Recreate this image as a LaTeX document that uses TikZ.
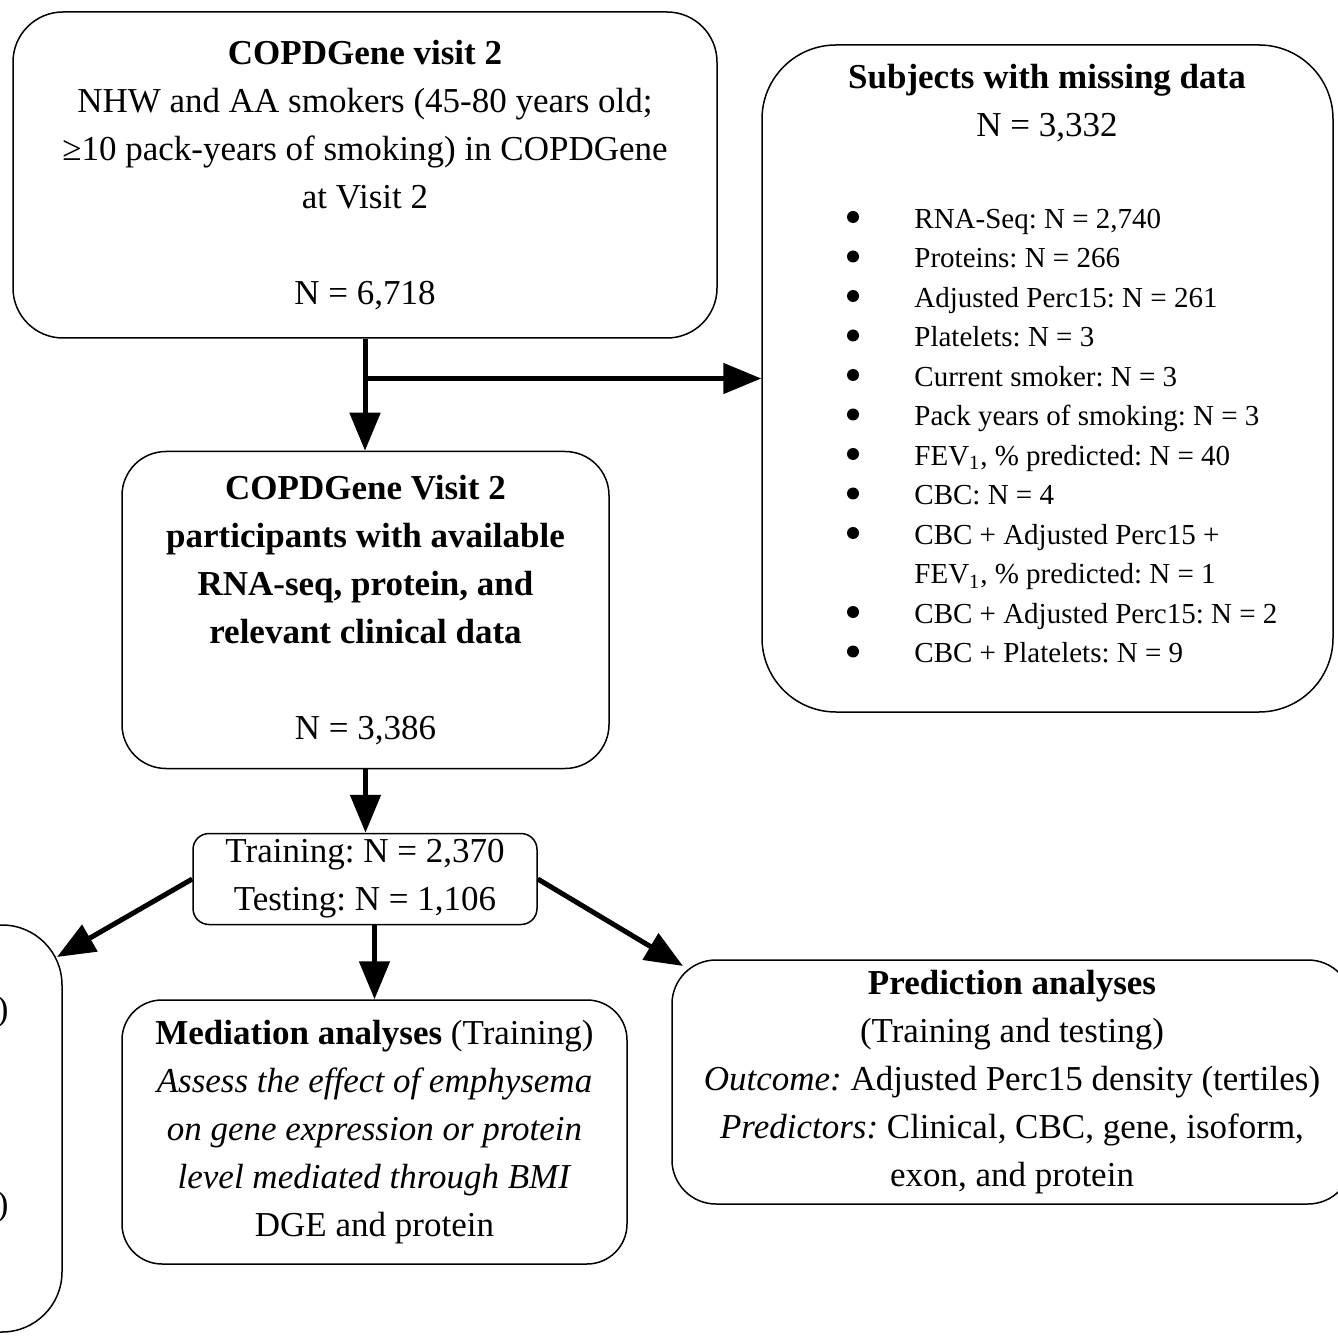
\documentclass[tikz,border=0pt]{standalone}
\usepackage{fontspec}
\setmainfont{Liberation Serif}
\frenchspacing
\usetikzlibrary{arrows.meta}

\tikzset{flowarrow/.style={line width=2.5pt,-{Triangle[length=19pt,width=15pt]}}}

\begin{document}
\begin{tikzpicture}[x=0.5pt,y=-0.5pt]

  \useasboundingbox (0,0) rectangle (1338,1336);

  \begin{scope}[every node/.style={draw,line width=0.75pt,align=center,inner sep=0pt,
      font=\fontsize{17.5}{24}\selectfont}]
    \node[minimum width=352pt,minimum height=163pt,rounded corners=25pt] (visit) at (365,175)
      {\textbf{COPDGene visit 2}\\ NHW and AA smokers (45-80 years old;\\
       ≥10 pack-years of smoking) in COPDGene\\ at Visit 2\\[24pt] N = 6,718};
    \node[minimum width=243.5pt,minimum height=158.5pt,rounded corners=22pt] (cohort) at (365.5,610)
      {\textbf{COPDGene Visit 2}\\ \textbf{participants with available}\\
       \textbf{RNA-seq, protein, and}\\ \textbf{relevant clinical data}\\[24pt] N = 3,386};
    \node[minimum width=172pt,minimum height=45.5pt,rounded corners=8pt] (split) at (365,879)
      {Training: N = 2,370\\ Testing: N = 1,106};
    \node[minimum width=285.5pt,minimum height=333.5pt,rounded corners=37pt] (missing) at (1047.5,378.5) {};
    \node[minimum width=181pt,minimum height=203.5pt,rounded corners=30pt] (other) at (-119,1128.5) {};
    \node[minimum width=252.5pt,minimum height=132pt,rounded corners=20pt] (mediation) at (374.5,1132)
      {\textbf{Mediation analyses} (Training)\\ \textit{Assess the effect of emphysema}\\
       \textit{on gene expression or protein}\\ \textit{level mediated through BMI}\\ DGE and protein};
    \node[minimum width=340pt,minimum height=122pt,rounded corners=22pt] (prediction) at (1012,1082)
      {\textbf{Prediction analyses}\\ (Training and testing)\\
       \textit{Outcome:} Adjusted Perc15 density (tertiles)\\
       \textit{Predictors:} Clinical, CBC, gene, isoform,\\ exon, and protein};
  \end{scope}

  \begin{scope}[every node/.style={inner sep=0pt,font=\fontsize{17.5}{24}\selectfont}]
    \node[align=center] (misstitle) at (1047,103) {\textbf{Subjects with missing data}\\ N = 3,332};
    \node[anchor=west,align=left,font=\fontsize{14.5}{19.75}\selectfont] (misslist) at (914,436)
      {RNA-Seq: N = 2,740\\
       Proteins: N = 266\\
       Adjusted Perc15: N = 261\\
       Platelets: N = 3\\
       Current smoker: N = 3\\
       Pack years of smoking: N = 3\\
       FEV\textsubscript{1}, \% predicted: N = 40\\
       CBC: N = 4\\
       CBC + Adjusted Perc15 +\\
       FEV\textsubscript{1}, \% predicted: N = 1\\
       CBC + Adjusted Perc15: N = 2\\
       CBC + Platelets: N = 9};
    \node[anchor=east] (otherA) at (9,1012) {)};
    \node[anchor=east] (otherB) at (9,1207) {)};
  \end{scope}

  \foreach \k in {0,...,8,10,11}
    \fill (853,{217+39.5*\k}) circle (3pt);

  \coordinate (othertip) at (57,957);
  \coordinate (predtip) at (683,966);

  \draw[flowarrow] (visit.south) -- (visit.south |- cohort.north);
  \draw[flowarrow] (visit.south |- missing.west) -- (missing.west);
  \draw[flowarrow] (cohort.south) -- (cohort.south |- split.north);
  \draw[flowarrow] (split.west) -- (othertip);
  \draw[flowarrow] (split.south -| mediation.north) -- (mediation.north);
  \draw[flowarrow] (split.east) -- (predtip);

\end{tikzpicture}
\end{document}
